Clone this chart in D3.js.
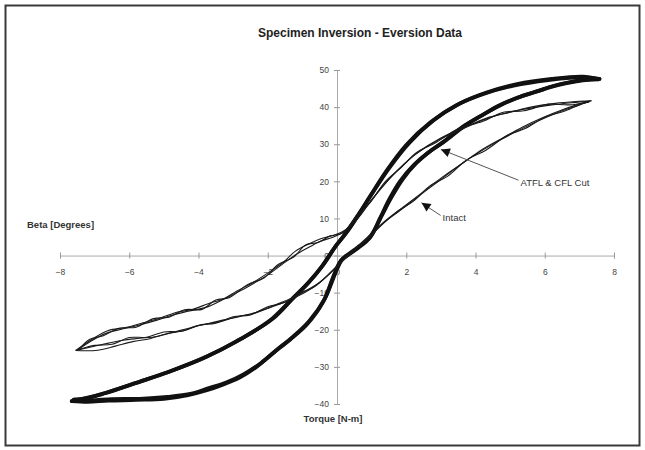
<!DOCTYPE html>
<html>
<head>
<meta charset="utf-8">
<script src="https://cdn.jsdelivr.net/npm/d3@7"></script>
<style>
  html, body { margin: 0; padding: 0; background: #fff; }
  svg { display: block; font-family: "Liberation Sans", Arial, sans-serif; }
</style>
</head>
<body>
<svg id="chart" width="645" height="450"></svg>
<script>
// Tick values for both axes
const torqueTicks = [-8, -6, -4, -2, 0, 2, 4, 6, 8];
const betaTicks = [-40, -30, -20, -10, 0, 10, 20, 30, 40, 50];

// Intact specimen: [torque N-m, beta deg], three recorded cycles, loading and unloading branches
const intactLoad1 = [
  [-7.50,-25.5],[-7.14,-24.7],[-6.60,-23.6],[-6.18,-22.8],[-5.70,-22.3],[-5.20,-21.8],[-4.70,-20.6],
  [-4.25,-19.5],[-3.80,-18.5],[-3.30,-17.4],[-2.80,-16.4],[-2.31,-15.2],[-1.65,-12.8],[-1.20,-11.0],
  [-0.90,-9.5],[-0.50,-7.2],[-0.20,-4.7],[0.20,-1.0],[0.60,2.5],[0.95,5.0],[1.24,8.0],[1.80,12.0],
  [2.40,16.3],[3.00,20.5],[3.55,24.4],[4.10,27.8],[4.71,31.1],[5.30,34.0],[5.87,36.5],[6.50,39.0],
  [7.00,40.6],[7.31,41.6]
];
const intactUnload1 = [
  [7.31,41.6],[6.80,41.2],[6.20,40.6],[5.50,39.6],[4.90,38.5],[4.30,36.8],[3.60,34.0],[2.92,31.1],
  [2.23,27.0],[1.94,24.7],[1.50,20.5],[1.00,15.0],[0.60,10.0],[0.20,6.5],[-0.10,5.0],[-0.50,3.8],
  [-0.70,2.8],[-1.16,0.4],[-1.60,-2.5],[-2.00,-5.2],[-2.50,-8.0],[-3.00,-10.5],[-3.40,-12.4],
  [-3.76,-13.9],[-4.30,-15.0],[-4.74,-16.0],[-5.20,-17.4],[-5.70,-18.7],[-6.20,-19.8],[-6.65,-20.9],
  [-7.10,-23.0],[-7.50,-25.5]
];
const intactLoad2 = [
  [-7.55,-25.6],[-6.90,-25.5],[-6.40,-24.4],[-5.90,-23.2],[-5.40,-22.4],[-4.90,-21.0],[-4.40,-20.2],
  [-3.90,-18.6],[-3.40,-17.9],[-2.90,-16.5],[-2.40,-15.6],[-1.90,-13.9],[-1.40,-12.1],[-1.00,-10.3],
  [-0.60,-8.1],[-0.25,-5.2],[0.15,-1.6],[0.55,2.0],[0.90,4.6],[1.30,8.6],[1.85,12.6],[2.45,16.9],
  [3.05,21.2],[3.60,24.7],[4.15,28.3],[4.75,31.5],[5.35,34.6],[5.90,37.0],[6.55,39.4],[7.05,41.0],
  [7.35,41.7]
];
const intactUnload2 = [
  [7.35,41.7],[6.90,41.5],[6.30,41.0],[5.60,40.0],[5.00,38.6],[4.40,37.3],[3.70,34.6],[3.00,31.7],
  [2.30,27.6],[2.00,25.1],[1.55,21.1],[1.05,15.6],[0.65,10.8],[0.25,7.0],[-0.05,5.6],[-0.45,4.6],
  [-0.80,3.2],[-1.20,1.2],[-1.55,-1.8],[-1.95,-4.4],[-2.45,-7.4],[-2.90,-9.6],[-3.30,-11.8],
  [-3.70,-12.9],[-4.20,-14.6],[-4.60,-15.2],[-5.10,-16.8],[-5.60,-18.1],[-6.10,-19.4],[-6.60,-20.2],
  [-7.05,-22.4],[-7.55,-25.6]
];
const intactLoad3 = [
  [-7.45,-25.3],[-7.00,-24.2],[-6.50,-23.9],[-6.00,-22.1],[-5.50,-22.0],[-5.00,-20.6],[-4.50,-20.4],
  [-4.00,-18.8],[-3.50,-18.2],[-3.00,-16.5],[-2.50,-16.0],[-2.00,-13.8],[-1.50,-12.6],[-1.10,-10.2],
  [-0.70,-8.6],[-0.30,-5.6],[0.10,-1.9],[0.50,1.6],[0.85,4.4],[1.20,7.4],[1.70,11.6],[2.20,14.6],
  [2.70,18.9],[3.20,21.4],[3.75,25.8],[4.30,28.4],[4.90,32.3],[5.45,34.3],[6.00,37.3],[6.60,39.0],
  [7.10,41.0],[7.28,41.4]
];
const intactUnload3 = [
  [7.28,41.4],[6.70,40.6],[6.10,40.8],[5.40,39.0],[4.80,38.6],[4.20,36.1],[3.50,34.2],[2.85,30.4],
  [2.30,27.8],[1.85,23.7],[1.40,20.0],[0.95,14.2],[0.55,10.4],[0.15,6.0],[-0.20,5.3],[-0.55,3.5],
  [-0.90,2.9],[-1.25,-0.4],[-1.70,-2.4],[-2.10,-6.0],[-2.60,-7.9],[-3.10,-11.3],[-3.50,-12.0],
  [-3.90,-14.5],[-4.40,-14.6],[-4.85,-16.6],[-5.30,-17.0],[-5.80,-19.3],[-6.30,-19.6],[-6.75,-21.6],
  [-7.15,-22.6],[-7.45,-25.3]
];

// ATFL & CFL cut specimen: [torque N-m, beta deg], two recorded cycles
const cutLoad1 = [
  [-7.66,-39.2],[-7.20,-39.4],[-6.60,-39.1],[-5.80,-38.9],[-5.00,-38.6],[-4.30,-37.6],[-3.76,-36.3],
  [-3.30,-34.8],[-2.80,-32.8],[-2.30,-29.8],[-1.85,-26.3],[-1.35,-22.6],[-0.87,-18.6],[-0.40,-12.5],
  [-0.10,-5.5],[0.10,-1.5],[0.30,0.0],[0.60,2.0],[0.95,4.8],[1.24,10.0],[1.50,15.0],[1.82,20.0],
  [2.23,24.5],[2.60,27.5],[3.06,30.5],[3.60,34.5],[4.22,38.0],[4.70,40.5],[5.20,42.5],[5.70,44.0],
  [6.16,45.4],[6.60,46.4],[7.10,47.2],[7.55,47.5]
];
const cutUnload1 = [
  [7.55,47.5],[7.10,48.2],[6.20,47.6],[5.20,46.2],[4.34,44.0],[3.55,41.0],[2.80,36.5],[2.10,30.5],
  [1.50,23.5],[1.00,16.5],[0.66,11.5],[0.30,6.5],[0.00,3.0],[-0.40,-2.5],[-0.80,-7.0],[-1.27,-11.5],
  [-1.85,-17.0],[-2.80,-22.6],[-3.76,-27.2],[-4.74,-30.9],[-5.70,-34.0],[-6.65,-36.9],[-7.20,-38.3],
  [-7.66,-39.2]
];
const cutLoad2 = [
  [-7.60,-38.8],[-7.10,-39.0],[-6.50,-38.7],[-5.70,-38.6],[-4.90,-38.1],[-4.20,-37.2],[-3.70,-35.7],
  [-3.20,-34.2],[-2.70,-32.0],[-2.20,-29.0],[-1.75,-25.5],[-1.25,-21.7],[-0.80,-17.6],[-0.35,-11.6],
  [-0.05,-4.8],[0.15,-1.0],[0.35,0.5],[0.65,2.6],[1.00,5.6],[1.30,10.9],[1.58,15.8],[1.90,20.6],
  [2.30,25.0],[2.70,28.2],[3.15,31.1],[3.70,35.0],[4.30,38.4],[4.80,40.9],[5.30,42.8],[5.80,44.3],
  [6.25,45.7],[6.70,46.7],[7.15,47.4],[7.58,47.6]
];
const cutUnload2 = [
  [7.58,47.6],[7.00,48.0],[6.10,47.3],[5.10,45.8],[4.25,43.6],[3.45,40.5],[2.70,35.9],[2.00,29.8],
  [1.42,22.7],[0.95,15.9],[0.60,10.8],[0.25,6.0],[-0.05,2.4],[-0.45,-3.1],[-0.85,-7.6],[-1.35,-12.2],
  [-1.95,-17.6],[-2.90,-23.1],[-3.85,-27.6],[-4.85,-31.3],[-5.80,-34.3],[-6.70,-37.1],[-7.25,-38.5],
  [-7.60,-38.8]
];

const intactCycles = [intactLoad1, intactUnload1, intactLoad2, intactUnload2, intactLoad3, intactUnload3];
const cutCycles = [cutLoad1, cutUnload1, cutLoad2, cutUnload2];

// Callout labels: text plus the [torque, beta] point each arrow touches and where its text sits
const callouts = [
  { text: "ATFL & CFL Cut", tip: [3.00, 28.6], anchor: [5.30, 19.5] },
  { text: "Intact",         tip: [2.44, 14.2], anchor: [3.05, 10.0] }
];

const svg = d3.select("#chart");

// Outer frame
svg.append("rect")
  .attr("x", 5.5).attr("y", 5.5)
  .attr("width", 634).attr("height", 440)
  .attr("fill", "#fff")
  .attr("stroke", "#3a3a3a")
  .attr("stroke-width", 2);

const x = d3.scaleLinear().domain([-8, 8]).range([60, 614]);
const y = d3.scaleLinear().domain([-40, 50]).range([404, 70]);

// Title
svg.append("text")
  .attr("x", 360).attr("y", 37)
  .attr("text-anchor", "middle")
  .attr("font-size", 12).attr("font-weight", "bold")
  .attr("fill", "#222")
  .text("Specimen Inversion - Eversion Data");

// Horizontal axis through beta = 0
const xAxis = svg.append("g")
  .attr("transform", `translate(0,${y(0)})`)
  .call(d3.axisBottom(x).tickValues(torqueTicks).tickSizeOuter(0).tickSize(3).tickPadding(10)
    .tickFormat(d3.format("d")));

// Vertical axis through torque = 0
const yAxis = svg.append("g")
  .attr("transform", `translate(${x(0)},0)`)
  .call(d3.axisLeft(y).tickValues(betaTicks).tickSizeOuter(0).tickSize(3).tickPadding(5)
    .tickFormat(d3.format("d")));

[xAxis, yAxis].forEach(g => {
  g.select(".domain").attr("stroke", "#aaa").attr("stroke-width", 1);
  g.selectAll(".tick text").attr("font-size", 8.5).attr("fill", "#444")
    .attr("font-family", "\"Liberation Sans\", Arial, sans-serif");
});
xAxis.selectAll(".tick line").attr("y1", -3).attr("y2", 3).attr("stroke", "#999");
yAxis.selectAll(".tick line").attr("x1", -3).attr("x2", 3).attr("stroke", "#999");

// Axis titles
svg.append("text")
  .attr("x", 27).attr("y", 228)
  .attr("font-size", 9.5).attr("font-weight", "bold").attr("fill", "#333")
  .text("Beta [Degrees]");
svg.append("text")
  .attr("x", 333).attr("y", 422)
  .attr("text-anchor", "middle")
  .attr("font-size", 9.5).attr("font-weight", "bold").attr("fill", "#333")
  .text("Torque [N-m]");

const line = d3.line()
  .x(d => x(d[0]))
  .y(d => y(d[1]))
  .curve(d3.curveCatmullRom.alpha(0.5));

// Ligament-cut loops: heavy strokes
svg.append("g").selectAll("path")
  .data(cutCycles)
  .join("path")
  .attr("d", line)
  .attr("fill", "none")
  .attr("stroke", "#111")
  .attr("stroke-width", 3.8)
  .attr("stroke-linejoin", "round")
  .attr("stroke-linecap", "round");

// Intact loops: fine strokes
svg.append("g").selectAll("path")
  .data(intactCycles)
  .join("path")
  .attr("d", line)
  .attr("fill", "none")
  .attr("stroke", "#1a1a1a")
  .attr("stroke-width", 1.1)
  .attr("stroke-linejoin", "round");

// Callout arrows
const defs = svg.append("defs");
defs.append("marker")
  .attr("id", "arrowhead")
  .attr("viewBox", "0 0 10 10")
  .attr("refX", 10).attr("refY", 5)
  .attr("markerWidth", 11).attr("markerHeight", 9)
  .attr("markerUnits", "userSpaceOnUse")
  .attr("orient", "auto")
  .append("path")
  .attr("d", "M0,0 L10,5 L0,10 Z")
  .attr("fill", "#111");

const callG = svg.append("g");
callouts.forEach(c => {
  const ax = x(c.anchor[0]), ay = y(c.anchor[1]);
  callG.append("line")
    .attr("x1", ax - 2).attr("y1", ay - 3)
    .attr("x2", x(c.tip[0])).attr("y2", y(c.tip[1]))
    .attr("stroke", "#555").attr("stroke-width", 1)
    .attr("marker-end", "url(#arrowhead)");
  callG.append("text")
    .attr("x", ax).attr("y", ay + 3)
    .attr("font-size", 9.5).attr("fill", "#333")
    .text(c.text);
});
</script>
</body>
</html>
